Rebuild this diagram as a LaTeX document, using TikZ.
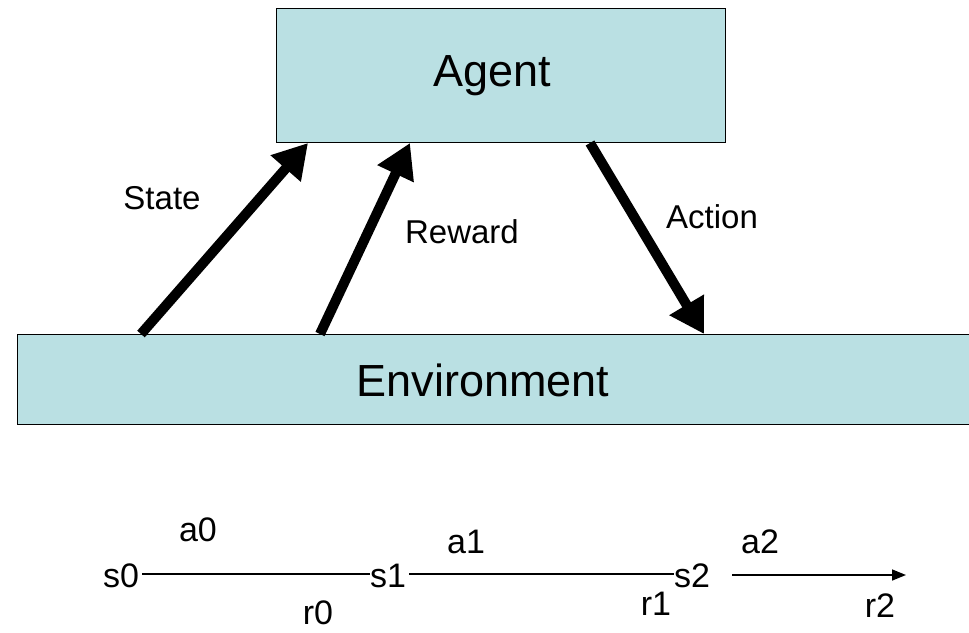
\documentclass[tikz,border=0pt]{standalone}
\usepackage{fontspec}
\setmainfont{Liberation Sans}
\usetikzlibrary{arrows.meta}
\definecolor{boxfill}{RGB}{186,224,227}
\tikzset{
  box/.style={draw=black, line width=1.2pt, fill=boxfill, inner sep=0pt},
  bigarrow/.style={line width=10pt, -{Triangle[length=34pt,width=38pt]}},
  lbl/.style={font=\fontsize{33}{37}\selectfont, inner sep=0pt},
  seq/.style={font=\fontsize{34}{38}\selectfont, inner sep=0pt},
  thin/.style={line width=1.5pt},
}
\begin{document}
\begin{tikzpicture}[x=1pt,y=-1pt]
\useasboundingbox (0,0) rectangle (969,632);
% boxes
\node[box, minimum width=449pt, minimum height=134pt, anchor=north west] (agent) at (276,8) {};
\node[font=\fontsize{45}{50}\selectfont] at (492,76) {Agent};
\node[box, minimum width=970pt, minimum height=90pt, anchor=north west] (env) at (17,334) {};
\node[font=\fontsize{45}{50}\selectfont] at (483,380) {Environment};
% arrow end points
\coordinate (sA) at (141,334);
\coordinate (sB) at (308,143);
\coordinate (rA) at (320,334);
\coordinate (rB) at (410,143);
\coordinate (aA) at (590,143);
\coordinate (aB) at (704,334);
\draw[bigarrow] (sA) -- (sB);
\draw[bigarrow] (rA) -- (rB);
\draw[bigarrow] (aA) -- (aB);
\node[lbl] (state) at (162,198) {State};
\node[lbl] (reward) at (462,232) {Reward};
\node[lbl] (action) at (712,217) {Action};
% sequence
\node[seq] (s0) at (121,576) {s0};
\node[seq] (s1) at (388,576) {s1};
\node[seq] (s2) at (692,576) {s2};
\coordinate (end) at (906,575);
\draw[thin] (s0.east) ++(3,-2) coordinate (p0) -- (p0 -| s1.west);
\draw[thin] (s1.east) ++(3,-2) coordinate (p1) -- (p1 -| s2.west);
\draw[thin, -{Triangle[length=14pt,width=11pt]}] (732,575) -- (end);
\node[seq] (a0) at (198,530) {a0};
\node[seq] (a1) at (466,542) {a1};
\node[seq] (a2) at (760,542) {a2};
\node[seq] (r0) at (318,613) {r0};
\node[seq] (r1) at (656,604) {r1};
\node[seq] (r2) at (880,606) {r2};
\end{tikzpicture}
\end{document}
